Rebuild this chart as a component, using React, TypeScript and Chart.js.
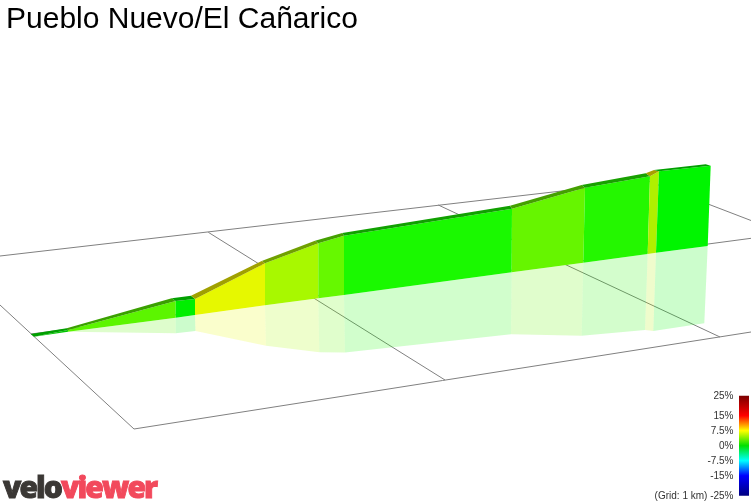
import React, { useEffect, useRef } from "react";
import { Chart, registerables } from "chart.js";

Chart.register(...registerables);

type Pt = [number, number];

const title = "Pueblo Nuevo/El Cañarico";
const gradeTicks = [25, 15, 7.5, 0, -7.5, -15, -25];
const gridNote = "(Grid: 1 km) ";

const rearTop: Pt[] = [[30.7, 334], [66.7, 328.3], [171.7, 298.3], [191, 295.8], [261.7, 261], [315, 240.7], [342.3, 233], [510, 205.8], [581.7, 185], [645.7, 173.3], [654, 170], [705.7, 164.3]];
const frontTop: Pt[] = [[34, 336.7], [68, 330], [175.7, 301], [195, 299], [265, 263.3], [318.3, 243.3], [344, 235.7], [512, 208.8], [585, 187.7], [650, 176.3], [659, 171.3], [710.7, 165.7]];
const base: Pt[] = [[34, 336.7], [68, 331.7], [175.7, 317.7], [195, 315], [265, 305.3], [318.3, 298.3], [344, 295], [511.7, 272.3], [583.3, 262.7], [647.7, 254], [656, 252.7], [707.7, 246]];
const shadow: Pt[] = [[34, 336.7], [68, 331.7], [175.7, 333.3], [195.5, 331], [266, 345.7], [319.3, 352.3], [345, 352.5], [511, 334.3], [581.7, 335.7], [645, 330], [653.3, 331], [704.3, 323.3]];

const wallColors = ["#00c800", "#5cf500", "#00ef00", "#e6f800", "#a8f800", "#66f800", "#1af900", "#66f500", "#24f700", "#b0f000", "#00f500"];
const capColors = ["#00a000", "#3aa000", "#00a000", "#a0a000", "#70a000", "#44a000", "#10a000", "#44a000", "#18a000", "#a8a000", "#00a000"];

const gridLines: Pt[][] = [
  [[0, 256], [648, 181]],
  [[648, 181], [751, 220.5]],
  [[0, 305], [134, 429]],
  [[134, 429], [751, 332]],
  [[31, 334], [751, 238.3]],
  [[208.3, 232.3], [445, 380]],
  [[438.3, 205], [720, 337]],
];

const barStops: [number, string][] = [[25, "#7a0000"], [15, "#ff0000"], [7.5, "#ffff00"], [0, "#00e000"], [-7.5, "#00ffff"], [-15, "#0000ff"], [-25, "#000080"]];
const barX = 744;

const quad = (a: Pt[], b: Pt[], i: number) =>
  [a[i], a[i + 1], b[i + 1], b[i]].map(([x, y]) => ({ x, y }));

export default function App() {
  const ref = useRef<HTMLCanvasElement>(null);
  useEffect(() => {
    const poly = (data: { x: number; y: number }[], color: string) => ({
      data, xAxisID: "x", yAxisID: "y", fill: "shape", backgroundColor: color,
      borderWidth: 0, pointRadius: 0, tension: 0,
    });
    const paint: any[] = [];
    gridLines.forEach((l) =>
      paint.push({ data: l.map(([x, y]) => ({ x, y })), xAxisID: "x", yAxisID: "y", fill: false, borderColor: "#808080", borderWidth: 1, pointRadius: 0 })
    );
    wallColors.forEach((c, i) => paint.push(poly(quad(base, shadow, i), c + "33")));
    wallColors.forEach((c, i) => paint.push(poly(quad(frontTop, base, i), c)));
    capColors.forEach((c, i) => paint.push(poly(quad(rearTop, frontTop, i), c)));
    paint.push({
      data: [{ x: barX, y: gradeTicks[0] }, { x: barX, y: gradeTicks[gradeTicks.length - 1] }],
      xAxisID: "x", yAxisID: "grade", fill: false, pointRadius: 0, borderWidth: 10,
      borderCapStyle: "butt",
      borderColor: (ctx: any) => {
        const s = ctx.chart.scales.grade;
        const top = s ? s.getPixelForValue(25) : NaN;
        const bottom = s ? s.getPixelForValue(-25) : NaN;
        if (!Number.isFinite(top) || !Number.isFinite(bottom)) return "#000";
        const g = ctx.chart.ctx.createLinearGradient(0, top, 0, bottom);
        barStops.forEach(([v, c]) => g.addColorStop((25 - v) / 50, c));
        return g;
      },
    });
    const chart = new Chart(ref.current!, {
      type: "line",
      data: { datasets: paint.reverse() },
      options: {
        animation: false,
        responsive: false,
        devicePixelRatio: 1,
        layout: { padding: 0 },
        plugins: { legend: { display: false }, tooltip: { enabled: false } },
        scales: {
          x: { type: "linear", min: 0, max: 751, display: false },
          y: { type: "linear", min: 0, max: 503, reverse: true, display: false },
          grade: {
            type: "linear",
            min: -28.65,
            max: 222.85,
            position: { x: 733.5 },
            border: { display: false },
            grid: { display: false, drawTicks: false },
            afterBuildTicks: (axis: any) => {
              axis.ticks = gradeTicks.map((value) => ({ value }));
            },
            afterFit: (axis: any) => {
              axis.paddingTop = 0;
              axis.paddingBottom = 0;
              axis.paddingLeft = 0;
              axis.paddingRight = 0;
            },
            ticks: {
              autoSkip: false,
              padding: 0,
              labelOffset: 1,
              color: "#333",
              font: { family: "'Liberation Sans'", size: 10 },
              callback: (v: any) => (v === -25 ? `${gridNote}${v}%` : `${v}%`),
            },
          },
        },
      } as any,
    });
    return () => chart.destroy();
  }, []);
  return (
    <div style={{ position: "absolute", left: 0, top: 0, width: 751, height: 503, background: "#fff", overflow: "hidden" }}>
      <canvas ref={ref} width={751} height={503} style={{ position: "absolute", left: 0, top: 0 }} />
      <div style={{ position: "absolute", left: 6, top: 1, font: "30px/34px 'Liberation Sans'", color: "#000", whiteSpace: "nowrap" }}>{title}</div>
      <div style={{ position: "absolute", left: 3, top: 467, font: "900 30px/40px 'Open Sans'", letterSpacing: "-1.9px", WebkitTextStroke: "0.9px", whiteSpace: "nowrap" }}>
        <span style={{ color: "#3b3835" }}>velo</span>
        <span style={{ color: "#f2495c" }}>viewer</span>
      </div>
    </div>
  );
}
